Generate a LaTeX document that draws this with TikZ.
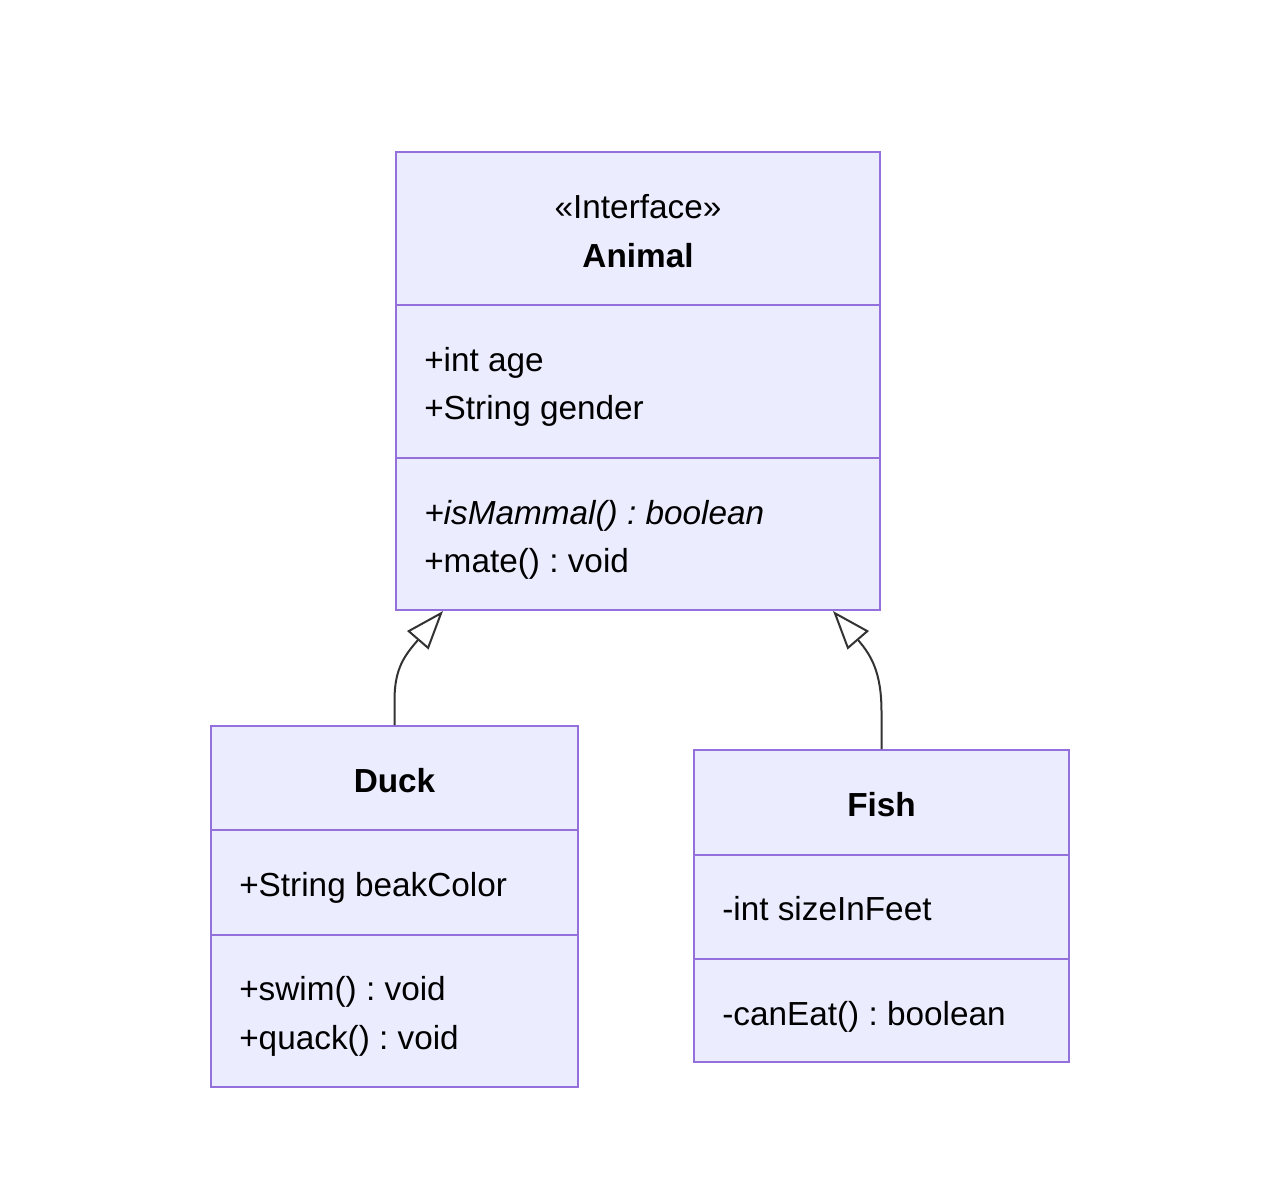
\documentclass[tikz,border=0pt]{standalone}
\usepackage{fontspec}
\setmainfont{Liberation Sans}
\usetikzlibrary{arrows.meta}
\definecolor{boxfill}{HTML}{ECECFF}
\definecolor{boxline}{HTML}{9370DB}
\definecolor{edge}{HTML}{333333}
\frenchspacing
\begin{document}
\frenchspacing
\begin{tikzpicture}[x=0.75pt,y=-0.75pt,
  classbox/.style={draw=boxline,fill=boxfill,line width=1.5pt,inner sep=0pt,rectangle},
  divider/.style={draw=boxline,line width=1.5pt},
  txt/.style={inner sep=0pt,anchor=west,text height=17.9pt,text depth=0pt,font=\fontsize{25}{30}\selectfont},
  ctxt/.style={txt,anchor=center},
  inh/.style={draw=edge,line width=1.5pt,-{Triangle[open,length=29pt,width=21pt,fill=white,line width=1.5pt]}}]
\path[use as bounding box] (0,0) rectangle (1280,1200);
% boxes
\node[classbox,minimum width=0.75*484pt,minimum height=0.75*458pt] (animal) at (638,381) {};
\node[classbox,minimum width=0.75*367pt,minimum height=0.75*361pt] (duck) at (394.5,906.5) {};
\node[classbox,minimum width=0.75*375pt,minimum height=0.75*312pt] (fish) at (881.5,906) {};
% dividers
\draw[divider] (animal.west |- 0,305) -- (animal.east |- 0,305);
\draw[divider] (animal.west |- 0,458) -- (animal.east |- 0,458);
\draw[divider] (duck.west |- 0,830) -- (duck.east |- 0,830);
\draw[divider] (duck.west |- 0,935) -- (duck.east |- 0,935);
\draw[divider] (fish.west |- 0,855) -- (fish.east |- 0,855);
\draw[divider] (fish.west |- 0,959) -- (fish.east |- 0,959);
% Animal texts
\node[ctxt] (aster) at (638,207) {«Interface»};
\node[ctxt,font=\fontsize{25}{30}\selectfont\bfseries] (aname) at (638,256) {Animal};
\node[txt] (aa1) at (424,360) {+int age};
\node[txt] (aa2) at (424,408) {+String gender};
\node[txt,font=\fontsize{25}{30}\selectfont\itshape] (am1) at (424,513) {+isMammal() : boolean};
\node[txt] (am2) at (424,561) {+mate() : void};
% Duck texts
\node[ctxt,font=\fontsize{25}{30}\selectfont\bfseries] (dname) at (394.5,781) {Duck};
\node[txt] (da1) at (239,885) {+String beakColor};
\node[txt] (dm1) at (239,989) {+swim() : void};
\node[txt] (dm2) at (239,1038) {+quack() : void};
% Fish texts
\node[ctxt,font=\fontsize{25}{30}\selectfont\bfseries] (fname) at (881.5,805) {Fish};
\node[txt] (fa1) at (722,909) {-int sizeInFeet};
\node[txt] (fm1) at (722,1014) {-canEat() : boolean};
% connectors
\draw[inh] (duck.north) -- (394.5,700) .. controls (394.5,668) and (405,655) .. (animal.south -| 443,0);
\draw[inh] (fish.north) -- (881.5,712) .. controls (881.5,672) and (871,655) .. (animal.south -| 833,0);
\end{tikzpicture}
\end{document}
